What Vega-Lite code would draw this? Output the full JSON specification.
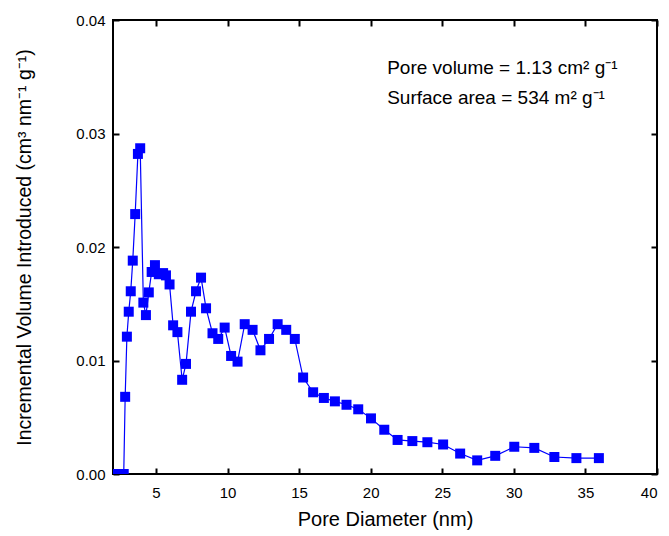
{
  "$schema": "https://vega.github.io/schema/vega-lite/v6.json",
  "width": 544,
  "height": 454,
  "autosize": "none",
  "padding": {"left": 113, "top": 20, "right": 12, "bottom": 62},
  "background": "white",
  "config": {
    "view": {"stroke": "black", "strokeWidth": 2},
    "axis": {
      "grid": false,
      "domain": false,
      "tickColor": "black",
      "tickWidth": 2,
      "tickSize": 6,
      "offset": -6,
      "labelFont": "Liberation Sans",
      "labelFontSize": 15,
      "labelColor": "black",
      "titleFont": "Liberation Sans",
      "titleFontWeight": "normal",
      "titleColor": "black"
    }
  },
  "data": {
    "values": [
      {"d": 2.25, "v": 0}, {"d": 2.75, "v": 0}, {"d": 2.85, "v": 0.0068},
      {"d": 2.97, "v": 0.0121}, {"d": 3.1, "v": 0.0143}, {"d": 3.24, "v": 0.0161},
      {"d": 3.38, "v": 0.0188}, {"d": 3.55, "v": 0.0229}, {"d": 3.74, "v": 0.0282},
      {"d": 3.9, "v": 0.0287}, {"d": 4.12, "v": 0.0151}, {"d": 4.3, "v": 0.014},
      {"d": 4.5, "v": 0.016}, {"d": 4.7, "v": 0.0178}, {"d": 4.93, "v": 0.0184},
      {"d": 5.2, "v": 0.0176}, {"d": 5.5, "v": 0.0177}, {"d": 5.7, "v": 0.0175},
      {"d": 5.95, "v": 0.0167}, {"d": 6.2, "v": 0.0131}, {"d": 6.5, "v": 0.0125},
      {"d": 6.83, "v": 0.0083}, {"d": 7.1, "v": 0.0097}, {"d": 7.45, "v": 0.0143},
      {"d": 7.8, "v": 0.0161}, {"d": 8.15, "v": 0.0173}, {"d": 8.5, "v": 0.0146},
      {"d": 8.95, "v": 0.0124}, {"d": 9.35, "v": 0.0119}, {"d": 9.8, "v": 0.0129},
      {"d": 10.25, "v": 0.0104}, {"d": 10.7, "v": 0.0099}, {"d": 11.2, "v": 0.0132},
      {"d": 11.75, "v": 0.0127}, {"d": 12.3, "v": 0.0109}, {"d": 12.9, "v": 0.0119},
      {"d": 13.5, "v": 0.0132}, {"d": 14.1, "v": 0.0127}, {"d": 14.7, "v": 0.0119},
      {"d": 15.28, "v": 0.0085}, {"d": 15.98, "v": 0.0072}, {"d": 16.73, "v": 0.0067},
      {"d": 17.5, "v": 0.0064}, {"d": 18.31, "v": 0.0061}, {"d": 19.13, "v": 0.0057},
      {"d": 20.02, "v": 0.0049}, {"d": 20.95, "v": 0.0039}, {"d": 21.88, "v": 0.003},
      {"d": 22.91, "v": 0.0029}, {"d": 23.96, "v": 0.0028}, {"d": 25.06, "v": 0.0026},
      {"d": 26.25, "v": 0.0018}, {"d": 27.44, "v": 0.0012}, {"d": 28.7, "v": 0.0016},
      {"d": 30.03, "v": 0.0024}, {"d": 31.43, "v": 0.0023}, {"d": 32.83, "v": 0.0015},
      {"d": 34.37, "v": 0.0014}, {"d": 35.94, "v": 0.0014}
    ]
  },
  "resolve": {"axis": {"x": "independent", "y": "independent"}},
  "layer": [
    {
      "mark": {"type": "line", "color": "#0000FF", "strokeWidth": 1.2, "clip": true},
      "encoding": {
        "x": {
          "field": "d", "type": "quantitative",
          "scale": {"domain": [2, 40], "nice": false, "zero": false},
          "axis": {"values": [5, 10, 15, 20, 25, 30, 35, 40], "title": "Pore Diameter (nm)", "titleFontSize": 20, "labelPadding": 11, "titlePadding": 9}
        },
        "y": {
          "field": "v", "type": "quantitative",
          "scale": {"domain": [0, 0.04], "nice": false},
          "axis": {"values": [0, 0.01, 0.02, 0.03, 0.04], "format": ".2f", "title": "Incremental Volume Introduced  (cm³  nm⁻¹ g⁻¹)", "titleFontSize": 19.5, "labelPadding": 8, "titlePadding": 41}
        }
      }
    },
    {
      "mark": {"type": "square", "color": "#0000FF", "size": 100, "opacity": 1, "filled": true, "clip": true},
      "encoding": {
        "x": {"field": "d", "type": "quantitative", "axis": {"orient": "top", "values": [5, 10, 15, 20, 25, 30, 35, 40], "labels": false, "title": null}},
        "y": {"field": "v", "type": "quantitative", "axis": {"orient": "right", "values": [0, 0.01, 0.02, 0.03, 0.04], "labels": false, "title": null}}
      }
    },
    {
      "data": {"values": [{"label": "Pore volume = 1.13 cm² g⁻¹", "px": 21.15, "py": 0.0358}, {"label": "Surface area = 534  m² g⁻¹", "px": 21.15, "py": 0.0331}]},
      "mark": {"type": "text", "align": "left", "baseline": "middle", "font": "Liberation Sans", "fontSize": 19, "color": "black"},
      "encoding": {
        "x": {"field": "px", "type": "quantitative", "axis": null},
        "y": {"field": "py", "type": "quantitative", "axis": null},
        "text": {"field": "label"}
      }
    }
  ]
}
